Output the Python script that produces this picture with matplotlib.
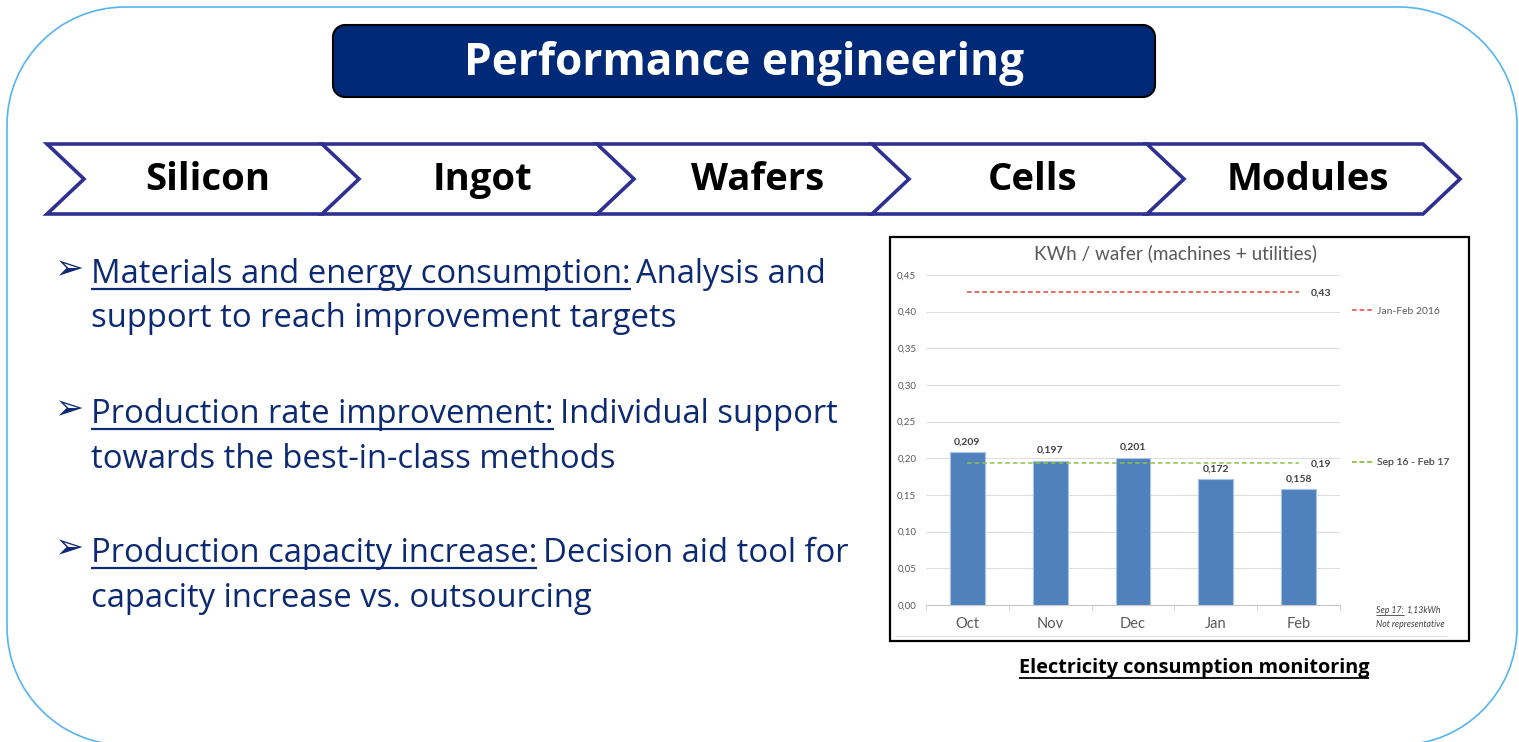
import matplotlib.pyplot as plt
import numpy as np
from matplotlib.patches import Polygon, Rectangle, PathPatch
from matplotlib.path import Path
from matplotlib.lines import Line2D

plt.rcParams['font.family'] = ['Open Sans', 'DejaVu Sans']

# данные графика
months = ['Oct', 'Nov', 'Dec', 'Jan', 'Feb']
kwh_per_wafer = [0.209, 0.197, 0.201, 0.172, 0.158]
ref_2016 = 0.427      # Jan-Feb 2016
ref_period = 0.194    # Sep 16 - Feb 17
ref_names = ['Jan-Feb 2016', 'Sep 16 - Feb 17']
y_ticks = [0.00, 0.05, 0.10, 0.15, 0.20, 0.25, 0.30, 0.35, 0.40, 0.45]

# текст слайда
stages = ['Silicon', 'Ingot', 'Wafers', 'Cells', 'Modules']
topics = ['Materials and energy consumption:', 'Production rate improvement:',
          'Production capacity increase:']
details_1 = ['Analysis and', 'Individual support', 'Decision aid tool for']
details_2 = ['support to reach improvement targets', 'towards the best-in-class methods',
             'capacity increase vs. outsourcing']

NAVY = '#0c2a72'
GRAY = '#595959'
CHART_FONT = ['Lato', 'DejaVu Sans']

def comma(v, n):
    return f'{v:.{n}f}'.replace('.', ',')

def rounded_path(x0, y0, x1, y1, r):
    # прямоугольник со скруглёнными углами (кривые Безье)
    k = 0.5523 * r
    verts = [(x0 + r, y0), (x1 - r, y0),
             (x1 - r + k, y0), (x1, y0 + r - k), (x1, y0 + r), (x1, y1 - r),
             (x1, y1 - r + k), (x1 - r + k, y1), (x1 - r, y1), (x0 + r, y1),
             (x0 + r - k, y1), (x0, y1 - r + k), (x0, y1 - r), (x0, y0 + r),
             (x0, y0 + r - k), (x0 + r - k, y0), (x0 + r, y0)]
    codes = [Path.MOVETO, Path.LINETO] + [Path.CURVE4] * 3 + [Path.LINETO] \
        + [Path.CURVE4] * 3 + [Path.LINETO] + [Path.CURVE4] * 3 + [Path.LINETO] + [Path.CURVE4] * 3
    return Path(verts, codes)

W, H = 1519, 742
fig = plt.figure(figsize=(W / 100, H / 100), dpi=100)
bg = fig.add_axes([0, 0, 1, 1])
bg.set_xlim(0, W)
bg.set_ylim(H, 0)
bg.axis('off')
renderer = fig.canvas.get_renderer()

def underline(t, y, lw, color):
    bb = t.get_window_extent(renderer)
    inv = bg.transData.inverted()
    x0 = inv.transform((bb.x0, bb.y0))[0]
    x1 = inv.transform((bb.x1, bb.y0))[0]
    bg.plot([x0, x1], [y, y], color=color, lw=lw, solid_capstyle='butt')
    return x1

# внешняя рамка (белая заливка, чтобы кривые не обрезались у края)
bg.add_patch(PathPatch(rounded_path(7, 7, 1517, 745, 118), fc='white', ec='#55b4f5', lw=1.2,
                       clip_on=False, zorder=0))

# заголовок
bg.add_patch(PathPatch(rounded_path(333, 25, 1155, 97, 12), fc='#002a78', ec='black', lw=1.5))
bg.text(744, 63, 'Performance engineering', color='white', fontsize=31.8,
        fontweight='bold', ha='center', va='center')

# цепочка шевронов
top, bot, mid, depth, width = 144, 214, 179, 37, 276
for i, name in enumerate(stages):
    left = 47 + i * 275
    pts = [(left, top), (left + width, top), (left + width + depth, mid),
           (left + width, bot), (left, bot), (left + depth, mid)]
    bg.add_patch(Polygon(pts, closed=True, fc='white', ec='#2e3192', lw=2.6, joinstyle='miter'))
    bg.text(left + 161, 180, name, fontsize=27.5, fontweight='bold', ha='center', va='center')

# пункты списка
baselines = [(283, 327), (423, 468), (562, 607)]
for topic, d1, d2, (b1, b2) in zip(topics, details_1, details_2, baselines):
    bg.text(54, b1 - 4, '\u27a2', family=['DejaVu Sans'], fontsize=25, color=NAVY,
            va='baseline', ha='left')
    t = bg.text(91, b1, topic, fontsize=23.6, color=NAVY, va='baseline')
    x_end = underline(t, b1 + 6, 1.6, NAVY)
    bg.text(x_end + 6, b1, d1, fontsize=23.6, color=NAVY, va='baseline')
    bg.text(91, b2, d2, fontsize=23.6, color=NAVY, va='baseline')

# рамка диаграммы
bg.add_patch(Rectangle((890, 237), 579, 404, fc='white', ec='black', lw=1.6))
bg.plot([896, 1446], [636, 636], color='#e3e3e3', lw=0.8)
bg.text(1175, 253, 'KWh / wafer (machines + utilities)', family=CHART_FONT, fontsize=13.6,
        color=GRAY, ha='center', va='center')

# диаграмма
ax = fig.add_axes([926 / W, (H - 605) / H, (1340 - 926) / W, (605 - 275) / H])
ax.patch.set_alpha(0)
x = np.arange(len(months))
ax.bar(x, kwh_per_wafer, width=0.42, color='#4f81bd', edgecolor='#a9c3e6', lw=0.8, zorder=3)
for xi, v in zip(x, kwh_per_wafer):
    ax.annotate(comma(v, 3), (xi, v), xytext=(0, 4), textcoords='offset points',
                ha='center', va='bottom', fontsize=7.5, fontweight='bold', color='#404040',
                family=CHART_FONT)

red, green = '#e0443c', '#8fc248'
ax.plot(x, [ref_2016] * len(x), ls=(0, (3, 2)), color=red, lw=1.1, zorder=4)
ax.plot(x, [ref_period] * len(x), ls=(0, (3, 2)), color=green, lw=1.1, zorder=4)
for ref in (ref_2016, ref_period):
    ax.annotate(comma(ref, 2), (x[-1], ref), xytext=(9, -1), textcoords='offset points',
                ha='left', va='center', fontsize=7.5, fontweight='bold', color='#404040',
                family=CHART_FONT)

# подписи опорных линий справа
for ref_y, col, name in zip((0.401, ref_period), (red, green), ref_names):
    leg = ax.legend(handles=[Line2D([], [], color=col, ls=(0, (3, 2)), lw=1.1)], labels=[name],
                    loc='center left', bbox_to_anchor=(1.03, ref_y / 0.45), frameon=False,
                    prop={'family': CHART_FONT, 'size': 7.5}, labelcolor=GRAY,
                    handlelength=2.2, handletextpad=0.2, borderpad=0, borderaxespad=0)
    ax.add_artist(leg)

ax.set_ylim(0, 0.45)
ax.set_xlim(-0.5, len(months) - 0.5)
ax.set_yticks(y_ticks)
ax.set_yticklabels([comma(t, 2) for t in y_ticks], fontsize=7, color=GRAY, family=CHART_FONT)
ax.set_xticks(x)
ax.set_xticklabels(months, fontsize=10.5, color=GRAY, family=CHART_FONT)
ax.set_xticks(np.arange(-0.5, len(months), 1), minor=True)
ax.tick_params(axis='y', length=0, pad=7)
ax.tick_params(axis='x', which='major', length=0, pad=9)
ax.tick_params(axis='x', which='minor', length=4, color='#d0d0d0')
ax.grid(axis='y', color='#dedede', lw=0.8)
ax.set_axisbelow(True)
for s in ('left', 'right', 'top'):
    ax.spines[s].set_visible(False)
ax.spines['bottom'].set_color('#c8c8c8')

# примечание
note = dict(fontsize=6.3, style='italic', color='#404040', va='baseline', family=CHART_FONT)
t = bg.text(1376, 613, 'Sep 17:', **note)
x_end = underline(t, 615, 0.6, '#404040')
bg.text(x_end + 2, 613, '1,13kWh', **note)
bg.text(1376, 627, 'Not representative', **note)

# подпись под диаграммой
t = bg.text(1194, 673, 'Electricity consumption monitoring', fontsize=14.3, fontweight='bold',
            ha='center', va='baseline')
underline(t, 678, 1.3, 'black')

plt.savefig('out.png', dpi=100)
